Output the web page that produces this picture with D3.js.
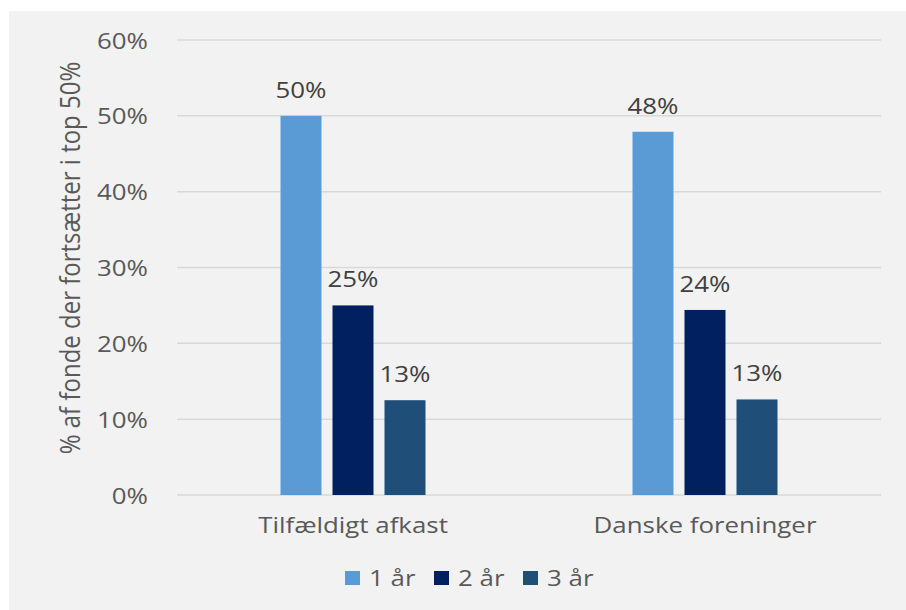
<!DOCTYPE html>
<html>
<head>
<meta charset="utf-8">
<script src="https://cdn.jsdelivr.net/npm/d3@7"></script>
<style>
  html, body { margin: 0; padding: 0; background: #ffffff; }
  svg { display: block; }
  text { font-family: "Open Sans", sans-serif; }
</style>
</head>
<body>
<svg id="chart" width="906" height="610"></svg>
<script>
// Share of funds that stay in the top 50%, by horizon
const categories = ["Tilfældigt afkast", "Danske foreninger"];
const seriesNames = ["1 år", "2 år", "3 år"];
const values1 = [0.50, 0.479];   // 1 år
const values2 = [0.25, 0.244];   // 2 år
const values3 = [0.125, 0.126];  // 3 år
const valueLabels1 = ["50%", "48%"];
const valueLabels2 = ["25%", "24%"];
const valueLabels3 = ["13%", "13%"];
const yTicks = [0, 0.1, 0.2, 0.3, 0.4, 0.5, 0.6];
const yTitle = "% af fonde der fortsætter i top 50%";

const colors = ["#5b9bd5", "#002060", "#1f4e79"];
const seriesValues = [values1, values2, values3];
const seriesLabels = [valueLabels1, valueLabels2, valueLabels3];

const svg = d3.select("#chart");
const SX = 1.15; // horizontal text stretch
const FS = 22.5;

// panel background
svg.append("rect").attr("x", 9).attr("y", 11).attr("width", 897).attr("height", 599)
  .attr("fill", "#f2f2f2");

const plot = { left: 177, right: 881, top: 40, bottom: 495 };

const y = d3.scaleLinear().domain([0, 0.6]).range([plot.bottom, plot.top]);
const x0 = d3.scaleBand().domain(categories).range([plot.left, plot.right]).padding(0);
const x1 = d3.scaleBand().domain(seriesNames).range([-72.5, 72.5])
  .paddingInner(11 / 52).paddingOuter(0);

// gridlines
svg.append("g").selectAll("line").data(yTicks).join("line")
  .attr("x1", plot.left).attr("x2", plot.right)
  .attr("y1", d => y(d)).attr("y2", d => y(d))
  .attr("stroke", "#d9d9d9").attr("stroke-width", 1.5);

// y tick labels
const yAxis = d3.axisLeft(y).tickValues(yTicks).tickFormat(d3.format(".0%")).tickSize(0);
const yg = svg.append("g").attr("transform", `translate(${plot.left},0)`).call(yAxis);
yg.select(".domain").remove();
yg.selectAll(".tick text")
  .attr("x", null).attr("dy", null)
  .attr("text-anchor", "end")
  .attr("font-size", FS).attr("fill", "#595959")
  .attr("font-family", "'Open Sans', sans-serif")
  .attr("transform", `translate(-29,8) scale(${SX},1)`);

// bars
const groups = svg.append("g").selectAll("g").data(categories).join("g")
  .attr("transform", d => `translate(${x0(d) + x0.bandwidth() / 2},0)`);

seriesNames.forEach((s, si) => {
  groups.append("rect")
    .attr("x", x1(s))
    .attr("width", x1.bandwidth())
    .attr("y", (d, ci) => y(seriesValues[si][ci]))
    .attr("height", (d, ci) => y(0) - y(seriesValues[si][ci]))
    .attr("fill", colors[si]);
  groups.append("text")
    .attr("text-anchor", "middle")
    .attr("font-size", FS).attr("fill", "#404040")
    .attr("transform", (d, ci) =>
      `translate(${x1(s) + x1.bandwidth() / 2},${y(seriesValues[si][ci]) - 18}) scale(${SX},1)`)
    .text((d, ci) => seriesLabels[si][ci]);
});

// category labels
const xAxis = d3.axisBottom(x0).tickSize(0);
const xg = svg.append("g").attr("transform", `translate(0,${plot.bottom})`).call(xAxis);
xg.select(".domain").remove();
xg.selectAll(".tick text")
  .attr("y", null).attr("dy", null)
  .attr("font-size", FS).attr("fill", "#595959")
  .attr("font-family", "'Open Sans', sans-serif")
  .attr("transform", `translate(0,38) scale(${SX},1)`);

// y axis title
svg.append("text")
  .attr("text-anchor", "middle")
  .attr("font-size", 24).attr("fill", "#595959")
  .attr("transform", `translate(80,258) scale(${SX},1) rotate(-90)`)
  .text(yTitle);

// legend
const legendX = [345, 434, 523];
const lg = svg.append("g").selectAll("g").data(seriesNames).join("g")
  .attr("transform", (d, i) => `translate(${legendX[i]},571)`);
lg.append("rect").attr("width", 15).attr("height", 14)
  .attr("fill", (d, i) => colors[i]);
lg.append("text")
  .attr("font-size", FS).attr("fill", "#595959")
  .attr("transform", `translate(24,15) scale(${SX},1)`)
  .text(d => d);
</script>
</body>
</html>
